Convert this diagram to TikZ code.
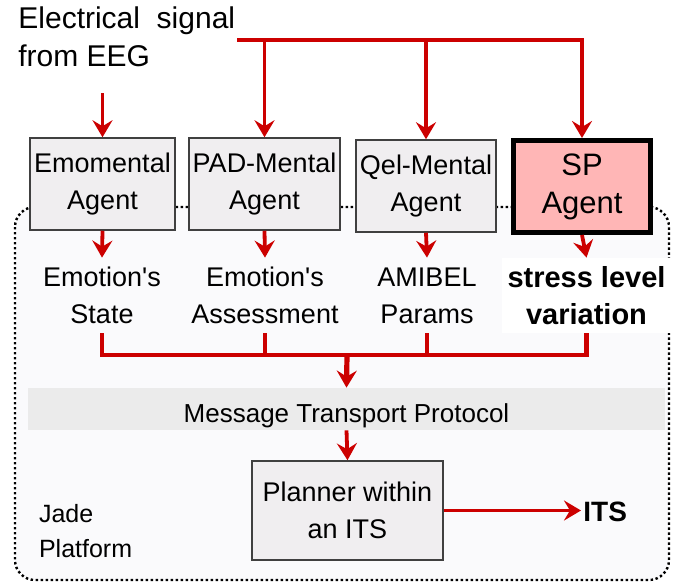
\documentclass[tikz,border=0pt]{standalone}
\usepackage{fontspec}
\setmainfont{Liberation Sans}
\usetikzlibrary{arrows.meta}
\definecolor{sigred}{RGB}{204,0,0}
\definecolor{agentgray}{RGB}{240,238,240}
\definecolor{sppink}{RGB}{255,182,182}
\definecolor{platformbg}{RGB}{250,250,252}
\definecolor{mtpgray}{RGB}{235,235,235}
\begin{document}
\begin{tikzpicture}[x=0.5pt,y=-0.5pt,
        every node/.style={font=\fontsize{13.5}{18.5}\selectfont, align=center},
        agent/.style={draw=black!75, line width=0.75pt, fill=agentgray, minimum height=46pt, inner sep=0pt},
        result/.style={inner sep=3pt, minimum height=37.5pt},
        sig/.style={draw=sigred, line width=1.9pt, -{Stealth[length=8.5pt,width=10pt,inset=3pt]}},
        wire/.style={draw=sigred, line width=2.2pt}]
    \useasboundingbox[fill=white] (0,0) rectangle (674,584);
    \draw[dash pattern=on 1.2pt off 1.3pt, line width=1.2pt, rounded corners=10pt, fill=platformbg]
        (15,207) rectangle (669,580);
    \node[anchor=north west, align=left, inner sep=0pt, font=\fontsize{15}{19}\selectfont] (eeg) at (18,6)
        {Electrical~ signal\\from EEG};
    \node[agent, minimum width=72.5pt] (emo) at (102.5,184) {Emomental\\Agent};
    \node[agent, minimum width=75.5pt] (pad) at (264.5,184) {PAD-Mental\\Agent};
    \node[agent, minimum width=70pt] (qel) at (426,186) {Qel-Mental\\Agent};
    \node[agent, draw=black, fill=sppink, line width=2.5pt, minimum width=68.5pt,
        font=\fontsize{15.5}{19}\selectfont] (sp) at (582,186.5) {SP\\Agent};
    \node[result] (emo-out) at (102,295.5) {Emotion\textquotesingle s\\State};
    \node[result] (pad-out) at (265,295.5) {Emotion\textquotesingle s\\Assessment};
    \node[result] (qel-out) at (427,295.5) {AMIBEL\\Params};
    \node[result, fill=white, minimum width=81.5pt, font=\bfseries\fontsize{14.5}{18.5}\selectfont]
        (sp-out) at (586.5,295.5) {stress level\\variation};
    \node[fill=mtpgray, minimum width=318.5pt, minimum height=21pt, text depth=0pt, text height=13pt,
        font=\fontsize{13}{16}\selectfont] (mtp) at (346.5,409) {Message Transport Protocol};
    \node[agent, minimum width=95.5pt, minimum height=49.5pt] (plan) at (347.5,510.5) {Planner within\\an ITS};
    \node[anchor=west, inner sep=1pt, font=\bfseries\fontsize{14}{16}\selectfont] (its) at (581,512) {ITS};
    \node[anchor=west, align=left, font=\fontsize{12.5}{17.5}\selectfont] (jade) at (32,531) {Jade\\Platform};
    \coordinate (bus) at (237,40);
    \coordinate (eegtap) at (102.5,93);
    \coordinate (join) at (347,355);
    \draw[sig] (eegtap) -- (emo.north);
    \draw[sig] (bus) -| (sp.north);
    \draw[sig] (pad.north |- bus) -- (pad.north);
    \draw[sig] (qel.north |- bus) -- (qel.north);
    \foreach \n in {emo,pad,qel,sp}
        \draw[sig] (\n.south) -- (\n-out.north);
    \draw[wire] (emo-out.south) |- (join) -| (sp-out.south);
    \draw[wire] (pad-out.south) -- (pad-out.south |- join);
    \draw[wire] (qel-out.south) -- (qel-out.south |- join);
    \draw[sig, line width=2.6pt] (join) -- (mtp.north);
    \draw[sig] (mtp.south) -- (plan.north);
    \draw[sig] (plan.east) -- (plan.east -| its.west);
\end{tikzpicture}
\end{document}
